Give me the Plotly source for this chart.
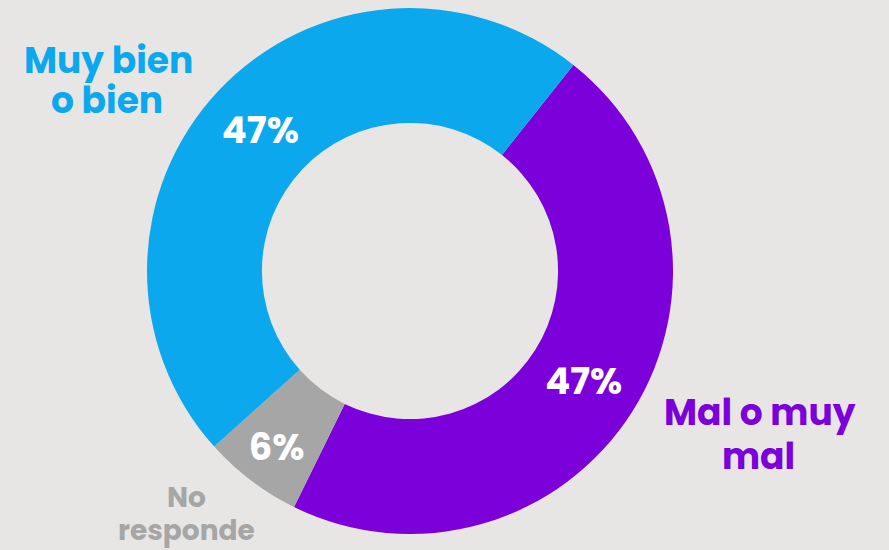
import plotly.graph_objects as go

categories = ["Mal o muy mal", "No responde", "Muy bien o bien"]
values = [46.6, 6.1, 47.3]
pct_labels = ["47%", "6%", "47%"]
colors = ["#7B00D9", "#A6A6A6", "#0BA8EE"]

label_lines = [["Mal o muy", "mal"], ["No", "responde"], ["Muy bien", "o bien"]]

W, H = 889, 550
BG = "#E8E6E4"
FONT = "Poppins, Inter, Noto Sans, sans-serif"

fig = go.Figure(go.Pie(
    labels=categories,
    values=values,
    text=pct_labels,
    sort=False,
    direction="clockwise",
    rotation=38.4,
    hole=0.563,
    marker=dict(colors=colors, line=dict(width=0)),
    texttemplate="%{text}",
    textposition="inside",
    insidetextorientation="horizontal",
    textfont=dict(family=FONT, size=37, color="white", weight=700),
    hoverinfo="label+text",
    showlegend=False,
    domain=dict(x=[147 / W, 673 / W], y=[(H - 534) / H, (H - 8) / H]),
))

# outside labels (pixel centres -> paper coords)
label_pos = [
    [(760, 412, 36), (758, 456, 36)],
    [(186, 497, 28), (186, 530, 28)],
    [(108, 60, 36), (107, 100, 36)],
]
for cat_lines, pos, col in zip(label_lines, label_pos, colors):
    for line, (px, py, fs) in zip(cat_lines, pos):
        fig.add_annotation(
            x=px / W, y=1 - py / H, xref="paper", yref="paper",
            text=line, showarrow=False, xanchor="center", yanchor="middle",
            font=dict(family=FONT, size=fs, color=col, weight=700),
        )

fig.update_layout(
    width=W, height=H,
    margin=dict(l=0, r=0, t=0, b=0),
    paper_bgcolor=BG, plot_bgcolor=BG,
    uniformtext=dict(minsize=20, mode="show"),
)

fig.write_html(
    "out.html",
    config={"displayModeBar": False},
    post_script="document.body.style.margin='0';document.body.style.overflow='hidden';document.body.style.background='%s';" % BG,
)
